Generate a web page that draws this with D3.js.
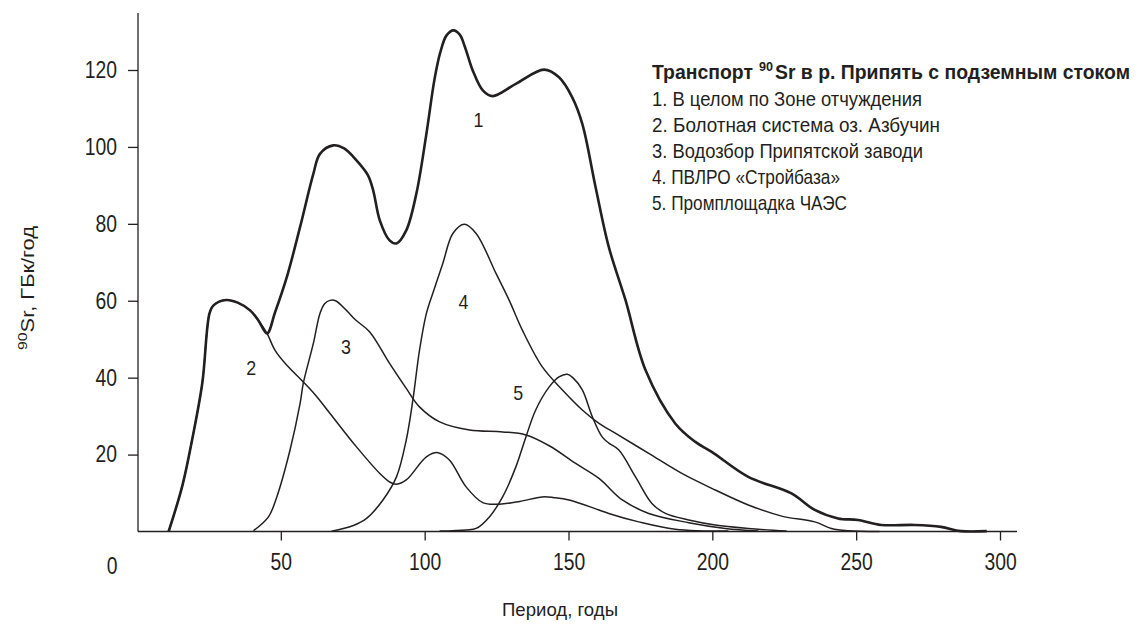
<!DOCTYPE html>
<html>
<head>
<meta charset="utf-8">
<script src="https://cdn.jsdelivr.net/npm/d3@7"></script>
<style>
  html, body { margin: 0; padding: 0; background: #fff; }
  svg text { font-family: "Liberation Sans", Arial, sans-serif; fill: #231f20; }
</style>
</head>
<body>
<svg id="chart" width="1140" height="625"></svg>
<script>
// ---- data (years, GBq/year) ----
const total = [[11,0],[15.8,12],[19.2,24],[22.7,38.6],[25.2,56.7],[26.6,58.8],[31,60.2],[35,59.5],[39.3,57.5],[42.1,55],[45.2,51.5],[48,57],[52.1,66.2],[56.7,79.2],[61.3,93],[63.6,98.2],[68.2,100.4],[72,99.6],[76.3,96.5],[80.3,92.6],[82.1,88.7],[84.4,80.9],[87.8,75.7],[90.2,74.9],[93.6,78.3],[97.1,87.8],[100.6,103.4],[103.4,117.5],[105.4,124.5],[107.6,129],[110,130.3],[112.2,129.2],[114,126],[116.7,119.9],[120.2,114.7],[123.6,113.2],[131.7,116.4],[141.5,120.1],[146.7,118.1],[151.3,112.9],[154.8,106],[159.4,89.6],[164,74],[169.8,60.2],[176.8,41.9],[187.1,28.1],[194.1,23.3],[199.8,20.7],[212.5,14.2],[227.5,9.9],[235.6,5.6],[243.7,3.4],[250.6,3.0],[258.7,1.7],[270.3,1.7],[279.5,1.2],[286.4,0.1],[295.4,0.1]];
const azbuchin = [[11,0],[15.8,12],[19.2,24],[22.7,38.6],[25.2,56.7],[26.6,58.8],[31,60.2],[35,59.5],[39.3,57.5],[42.1,55],[45.2,51.5],[48,47.1],[52.1,43.2],[57.8,38.9],[62,35.5],[67.1,30.7],[76.3,22],[84.4,15.1],[88,12.8],[90.2,12.3],[93.6,13.4],[100.6,19.4],[104.6,20.5],[108.6,18.6],[114.4,11.6],[120.2,7.5],[125.9,7.1],[133,7.8],[140.9,9.0],[145,8.8],[150.2,8.2],[160.6,5.6],[164,4.7],[174.4,2.5],[187.1,0.6],[205.6,0.1]];
const zavod = [[40.5,0.2],[45.7,3.8],[48.6,9],[53.2,21.2],[56.7,33.3],[57.8,38.5],[61.3,48.9],[63.6,56.7],[65.3,59.3],[67.1,60.1],[69,60],[72.8,57.5],[76,55],[80.9,51.9],[87.8,43.7],[93.6,37.2],[98.2,32.4],[105.2,28.5],[115.6,26.4],[127.1,25.9],[135.2,25.1],[143.3,22.3],[152.5,17.7],[160.6,13.8],[168.7,8.2],[177.9,4.7],[191.8,2.3],[204.5,0.8],[216,0.1]];
const stroybaza = [[67.6,0.1],[75,1.5],[79.8,3.4],[85.5,8.2],[90.2,14.2],[93.6,23.8],[95.9,34.2],[98.2,47.1],[100.6,56.7],[102.8,61.9],[106.3,69.7],[109.8,77.5],[113.8,79.9],[117.9,77.5],[124.8,67.1],[129.4,60.1],[134,52.3],[140.9,42.8],[147.9,36.8],[154.8,31.6],[160.6,28.1],[166.4,25.5],[177.9,20.3],[189.4,15.1],[201,10.8],[212.5,6.9],[224.1,4],[235.6,2.5],[241.4,0.8],[247.2,0.2],[258.1,0]];
const chaes = [[105.2,0.1],[114.4,0.4],[117.9,0.8],[122.5,3.8],[127.1,9],[131.7,16.8],[135.2,24.6],[138.6,31.6],[143.3,37.6],[146.7,40.2],[149.6,40.9],[151.5,40],[154.8,36.8],[158.3,29.8],[161.7,24.6],[164,23],[167.5,21.2],[173.3,14.2],[179,7.3],[183.7,4.7],[191.8,3],[201,1.7],[212.5,0.8],[225.8,0.1]];

const seriesNames = ["1","2","3","4","5"];
const labelPos = [[118.7,106.9],[39.7,42.5],[72.6,47.9],[113.5,59.6],[132.5,36]];
const xTicks = [50,100,150,200,250,300];
const yTicks = [20,40,60,80,100,120];
const legendTitle = ["Транспорт", "90", "Sr в р. Припять с подземным стоком"];
const legendItems = ["1. В целом по Зоне отчуждения","2. Болотная система оз. Азбучин","3. Водозбор Припятской заводи","4. ПВЛРО «Стройбаза»","5. Промплощадка ЧАЭС"];

// ---- drawing ----
const ink = "#231f20";
const svg = d3.select("#chart");
const x = d3.scaleLinear().domain([0,300]).range([137,1000]);
const y = d3.scaleLinear().domain([0,120]).range([531.5,70]);

// condense a text element horizontally (the reference uses a condensed face)
function condense(sel, k) {
  sel.each(function(){
    const w = this.getComputedTextLength();
    d3.select(this).attr("textLength", w*k).attr("lengthAdjust","spacingAndGlyphs");
  });
}
function fitTo(sel, w) { sel.attr("textLength", w).attr("lengthAdjust","spacingAndGlyphs"); }

// axes
svg.append("line").attr("x1",138).attr("x2",138).attr("y1",13).attr("y2",y(0)).attr("stroke",ink).attr("stroke-width",1.3);
svg.append("line").attr("x1",138).attr("x2",1017).attr("y1",y(0)).attr("y2",y(0)).attr("stroke",ink).attr("stroke-width",1.3);

const gx = svg.append("g").attr("transform",`translate(0,${y(0)})`)
  .call(d3.axisBottom(x).tickValues(xTicks).tickSize(9).tickPadding(13).tickFormat(d3.format("d")));
gx.select(".domain").remove();
gx.selectAll("line").attr("stroke",ink).attr("stroke-width",1.3);
gx.selectAll("text").attr("font-size",23).style("font-family",null).attr("fill",ink).call(condense,0.84);
svg.append("text").attr("x",112).attr("y",574).attr("text-anchor","middle").attr("font-size",23).text("0").call(condense,0.84);

const gy = svg.append("g").attr("transform","translate(138,0)")
  .call(d3.axisLeft(y).tickValues(yTicks).tickSize(10).tickPadding(11).tickFormat(d3.format("d")));
gy.select(".domain").remove();
gy.selectAll("line").attr("stroke",ink).attr("stroke-width",1.3);
gy.selectAll("text").attr("font-size",23).style("font-family",null).attr("fill",ink).call(condense,0.84);

// curves
const line = d3.line().x(d=>x(d[0])).y(d=>y(d[1])).curve(d3.curveCatmullRom.alpha(0.5));
[azbuchin, zavod, stroybaza, chaes].forEach(s=>{
  svg.append("path").attr("d",line(s)).attr("fill","none").attr("stroke",ink).attr("stroke-width",1.5);
});
svg.append("path").attr("d",line(total)).attr("fill","none").attr("stroke",ink).attr("stroke-width",2.6);

// series labels
seriesNames.forEach((n,i)=>{
  svg.append("text").attr("x",x(labelPos[i][0])).attr("y",y(labelPos[i][1])+7)
    .attr("text-anchor","middle").attr("font-size",21).text(n).call(condense,0.85);
});

// legend title: three pieces laid out one after another
const lx = 652;
let cx = lx;
const tParts = [
  {t: legendTitle[0], size: 20, dy: 0, gap: 6},
  {t: legendTitle[1], size: 13, dy: -8, gap: 2},
  {t: legendTitle[2], size: 20, dy: 0, gap: 0}
];
tParts.forEach(p=>{
  const el = svg.append("text").attr("x",cx).attr("y",79+p.dy).attr("font-size",p.size).attr("font-weight","bold").text(p.t);
  el.call(condense,0.97);
  cx += +el.attr("textLength") + p.gap;
});
const itemW = [270, 288, 271, 188, 195];
legendItems.forEach((t,i)=>{
  svg.append("text").attr("x",lx).attr("y",106+i*26).attr("font-size",21).text(t).call(fitTo,itemW[i]);
});

// axis titles
svg.append("text").attr("x",560).attr("y",616).attr("text-anchor","middle").attr("font-size",19).text("Период, годы").call(fitTo,116);
const yl = svg.append("text").attr("transform","translate(34,288) rotate(-90)").attr("text-anchor","middle").attr("font-size",18);
yl.append("tspan").attr("font-size",13).attr("dy",-7).text("90");
yl.append("tspan").attr("dy",7).text("Sr, ГБк/год");
fitTo(yl, 124);
</script>
</body>
</html>
